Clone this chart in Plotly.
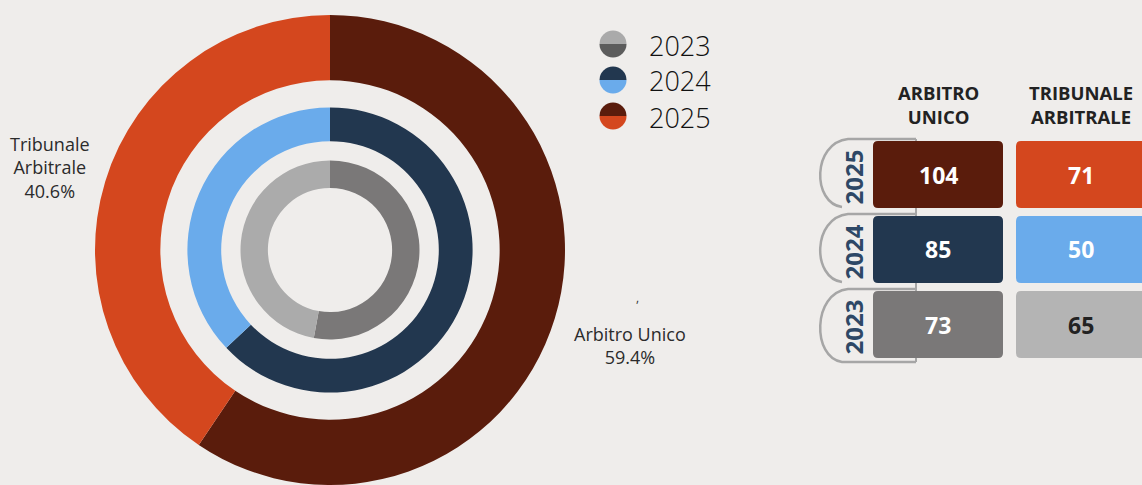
import plotly.graph_objects as go

# ---------------- data ----------------
years = ["2023", "2024", "2025"]
categories = ["Arbitro Unico", "Tribunale Arbitrale"]
arbitro_unico = [73, 85, 104]
tribunale_arbitrale = [65, 50, 71]

# ---------------- styles ----------------
W, H = 1142, 485
BG = "#efedeb"
FONT = "Open Sans"
col_au = {"2023": "#7a7878", "2024": "#22374f", "2025": "#5a1c0c"}
col_ta = {"2023": "#ababab", "2024": "#6aabeb", "2025": "#d4471e"}
tbl_au = {"2023": "#7a7878", "2024": "#22374f", "2025": "#5a1c0c"}
tbl_ta = {"2023": "#b4b4b4", "2024": "#6aabeb", "2025": "#d4471e"}
tbl_txt_ta = {"2023": "#222222", "2024": "#ffffff", "2025": "#ffffff"}
leg_top = {"2023": "#aaaaaa", "2024": "#22374f", "2025": "#5a1c0c"}
leg_bot = {"2023": "#5c5c5c", "2024": "#6aabeb", "2025": "#d4471e"}
YEAR_COL = "#2e4866"


def X(px):
    return px / W


def Y(py):
    return 1 - py / H


# ring geometry (pixels): year -> (outer radius, hole fraction)
CX, CY = 330, 250
rings = {"2023": (89.5, 0.694), "2024": (142.6, 0.763), "2025": (235, 0.722)}

fig = go.Figure()

for yr in years:
    i = years.index(yr)
    r, hole = rings[yr]
    fig.add_trace(go.Pie(
        labels=categories,
        values=[arbitro_unico[i], tribunale_arbitrale[i]],
        hole=hole,
        sort=False,
        direction="clockwise",
        rotation=0,
        textinfo="none",
        marker=dict(colors=[col_au[yr], col_ta[yr]], line=dict(width=0)),
        domain=dict(x=[X(CX - r), X(CX + r)], y=[Y(CY + r), Y(CY - r)]),
        showlegend=False,
        hoverinfo="label+value+percent",
        name=yr,
    ))

# legend icons as small split pies
LEG_X, LEG_Y0, LEG_DY, LEG_R = 613, 44, 36, 13.5
annotations = []
for k, yr in enumerate(years):
    cy = LEG_Y0 + k * LEG_DY
    fig.add_trace(go.Pie(
        values=[1, 1],
        labels=["b", "t"],
        sort=False,
        direction="clockwise",
        rotation=90,
        textinfo="none",
        hoverinfo="skip",
        marker=dict(colors=[leg_bot[yr], leg_top[yr]], line=dict(width=0)),
        domain=dict(x=[X(LEG_X - LEG_R), X(LEG_X + LEG_R)],
                    y=[Y(cy + LEG_R), Y(cy - LEG_R)]),
        showlegend=False,
    ))
    annotations.append(dict(
        x=X(647), y=Y(cy + 1), xref="paper", yref="paper", xanchor="left", yanchor="middle",
        text=yr, showarrow=False,
        font=dict(family=FONT, size=27, color="#111111", weight=300),
    ))

# outside labels for the 2025 ring
i25 = years.index("2025")
tot = arbitro_unico[i25] + tribunale_arbitrale[i25]
pct_au = 100 * arbitro_unico[i25] / tot
pct_ta = 100 * tribunale_arbitrale[i25] / tot
annotations.append(dict(
    x=X(50), y=Y(167), xref="paper", yref="paper", xanchor="center", yanchor="middle",
    text="Tribunale<br>Arbitrale<br>%.1f%%" % pct_ta, showarrow=False,
    font=dict(family=FONT, size=18, color="#2b2b2b"),
))
annotations.append(dict(
    x=X(630), y=Y(345), xref="paper", yref="paper", xanchor="center", yanchor="middle",
    text="Arbitro Unico<br>%.1f%%" % pct_au, showarrow=False,
    font=dict(family=FONT, size=18, color="#2b2b2b"),
))
annotations.append(dict(
    x=X(637), y=Y(297), xref="paper", yref="paper", xanchor="center", yanchor="middle",
    text=",", showarrow=False, font=dict(family=FONT, size=12, color="#333333"),
))

# ---------------- table ----------------
shapes = []


def rrect(x0, y0, x1, y1, r, color):
    p = (f"M {X(x0 + r)},{Y(y0)} L {X(x1 - r)},{Y(y0)} Q {X(x1)},{Y(y0)} {X(x1)},{Y(y0 + r)} "
         f"L {X(x1)},{Y(y1 - r)} Q {X(x1)},{Y(y1)} {X(x1 - r)},{Y(y1)} "
         f"L {X(x0 + r)},{Y(y1)} Q {X(x0)},{Y(y1)} {X(x0)},{Y(y1 - r)} "
         f"L {X(x0)},{Y(y0 + r)} Q {X(x0)},{Y(y0)} {X(x0 + r)},{Y(y0)} Z")
    return dict(type="path", path=p, xref="paper", yref="paper",
                fillcolor=color, line=dict(width=0), layer="above")


COL_X = [873, 1016]
BOX_W, BOX_H, ROW0, ROW_DY = 130, 67, 141, 75
BR_X = 916
order = list(reversed(years))  # 2025 top

# vertical connector line
shapes.append(dict(type="line", xref="paper", yref="paper",
                   x0=X(BR_X), x1=X(BR_X), y0=Y(139), y1=Y(ROW0 + 2 * ROW_DY + BOX_H + 4),
                   line=dict(color="#a6a6a6", width=2)))

for k, yr in enumerate(order):
    i = years.index(yr)
    top = ROW0 + k * ROW_DY
    bot = top + BOX_H
    # bracket
    t, b = top - 2, bot - 1 if k < 2 else bot + 4
    endx = 842 if k < 2 else BR_X
    path = (f"M {X(BR_X)},{Y(t)} L {X(848)},{Y(t)} "
            f"C {X(812)},{Y(t + 4)} {X(812)},{Y(b - 4)} {X(842)},{Y(b)} L {X(endx)},{Y(b)}")
    shapes.append(dict(type="path", path=path, xref="paper", yref="paper",
                       line=dict(color="#a6a6a6", width=2.5)))
    shapes.append(rrect(COL_X[0], top, COL_X[0] + BOX_W, bot, 5, tbl_au[yr]))
    shapes.append(rrect(COL_X[1], top, COL_X[1] + BOX_W, bot, 5, tbl_ta[yr]))
    cy = (top + bot) / 2
    annotations.append(dict(
        x=X(COL_X[0] + BOX_W / 2), y=Y(cy), xref="paper", yref="paper",
        xanchor="center", yanchor="middle", text="<b>%d</b>" % arbitro_unico[i],
        showarrow=False, font=dict(family=FONT, size=23, color="#ffffff"),
    ))
    annotations.append(dict(
        x=X(COL_X[1] + BOX_W / 2), y=Y(cy), xref="paper", yref="paper",
        xanchor="center", yanchor="middle", text="<b>%d</b>" % tribunale_arbitrale[i],
        showarrow=False, font=dict(family=FONT, size=23, color=tbl_txt_ta[yr]),
    ))
    annotations.append(dict(
        x=X(853), y=Y(cy + 3), xref="paper", yref="paper",
        xanchor="center", yanchor="middle", text="<b>%s</b>" % yr, textangle=-90,
        showarrow=False, font=dict(family=FONT, size=24, color=YEAR_COL),
    ))

# headers
for j, cat in enumerate(categories):
    annotations.append(dict(
        x=X(COL_X[j] + BOX_W / 2), y=Y(104), xref="paper", yref="paper",
        xanchor="center", yanchor="middle",
        text="<b>" + cat.upper().replace(" ", "<br>") + "</b>",
        showarrow=False, font=dict(family=FONT, size=18.5, color="#222222"),
    ))

fig.update_layout(
    width=W, height=H,
    margin=dict(l=0, r=0, t=0, b=0),
    paper_bgcolor=BG, plot_bgcolor=BG,
    showlegend=False,
    annotations=annotations,
    shapes=shapes,
)

fig.write_html(
    "out.html",
    config={"displayModeBar": False},
    post_script="document.body.style.margin='0';document.body.style.overflow='hidden';",
)
